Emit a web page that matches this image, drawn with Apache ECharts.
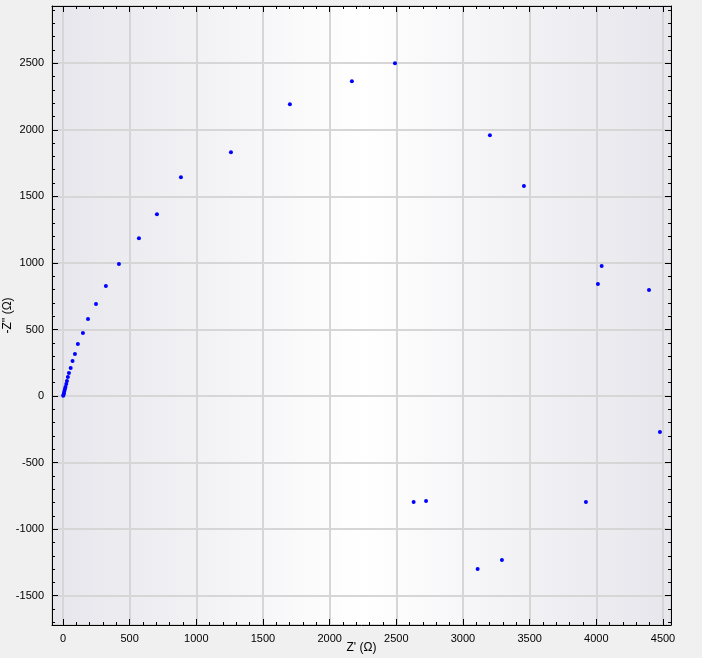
<!DOCTYPE html>
<html><head><meta charset="utf-8">
<script src="https://cdn.jsdelivr.net/npm/echarts@6/dist/echarts.min.js"></script>
<style>html,body{margin:0;padding:0;background:#f0f0f0;}#c{width:702px;height:658px;}</style>
</head><body><div id="c"></div>
<script>
// Nyquist data: Z' (ohm) and -Z'' (ohm)
const zReal = [2, 5, 8, 11, 15, 19, 25, 30, 37, 45, 58, 72, 90, 112, 150, 188, 248, 322, 420, 570, 705, 885, 1260, 1702, 2167, 2490, 3202, 3457, 4040, 4012, 4395, 4477, 3922, 3292, 3110, 2723, 2630];
const zImagNeg = [2, 11, 23, 38, 53, 68, 90, 113, 143, 173, 210, 263, 315, 390, 473, 578, 691, 826, 991, 1186, 1366, 1644, 1832, 2192, 2365, 2500, 1959, 1577, 976, 841, 796, -270, -796, -1231, -1299, -788, -796];
const xAxisName = "Z' (\u03A9)";
const yAxisName = "-Z'' (\u03A9)";

const points = zReal.map((v, i) => [v, zImagNeg[i]]);
const chart = echarts.init(document.getElementById('c'));
const font = 'Liberation Sans';
const baseAxis = {
  type: 'value',
  axisLine: { show: true, onZero: false, lineStyle: { color: '#000', width: 1 } },
  axisTick: { show: true, inside: true, length: 6, lineStyle: { color: '#000' } },
  minorTick: { show: true, splitNumber: 5, length: 3, lineStyle: { color: '#000' } },
  axisLabel: { color: '#000', fontFamily: font, fontSize: 11, showMinLabel: false, showMaxLabel: false,
    formatter: v => String(v) },
  splitLine: { show: false },
};
chart.setOption({
  animation: false,
  backgroundColor: '#f0f0f0',
  grid: {
    left: 52, right: 31, top: 6, bottom: 33, show: true, borderWidth: 0,
    containLabel: false, outerBoundsMode: 'none',
    backgroundColor: { type: 'linear', x: 0, y: 0, x2: 1, y2: 0, colorStops: [
      { offset: 0, color: '#e6e6ec' }, { offset: 0.5, color: '#ffffff' }, { offset: 1, color: '#e6e6ec' } ] }
  },
  xAxis: [
    Object.assign({}, baseAxis, {
      min: -82, max: 4560, splitNumber: 9, position: 'bottom',
      name: xAxisName, nameLocation: 'middle', nameGap: 17, nameMoveOverlap: false,
      nameTextStyle: { color: '#000', fontFamily: font, fontSize: 12 },
      splitLine: { show: true, lineStyle: { color: '#d6d6d6', width: 2 } },
    }),
    Object.assign({}, baseAxis, {
      min: -82, max: 4560, splitNumber: 9, position: 'top',
      axisLabel: { show: false },
    }),
  ],
  yAxis: [
    Object.assign({}, baseAxis, {
      min: -1720, max: 2930, splitNumber: 9, position: 'left',
      name: yAxisName, nameLocation: 'middle', nameGap: 38, nameMoveOverlap: false,
      nameTextStyle: { color: '#000', fontFamily: font, fontSize: 12 },
      axisLabel: Object.assign({}, baseAxis.axisLabel, { margin: 8 }),
      splitLine: { show: true, lineStyle: { color: '#d6d6d6', width: 2 } },
    }),
    Object.assign({}, baseAxis, {
      min: -1720, max: 2930, splitNumber: 9, position: 'right',
      axisLabel: { show: false },
    }),
  ],
  series: [{
    type: 'scatter', data: points, symbol: 'circle', symbolSize: 4,
    itemStyle: { color: '#0000ff', opacity: 1 }, xAxisIndex: 0, yAxisIndex: 0,
  }],
});
</script></body></html>
